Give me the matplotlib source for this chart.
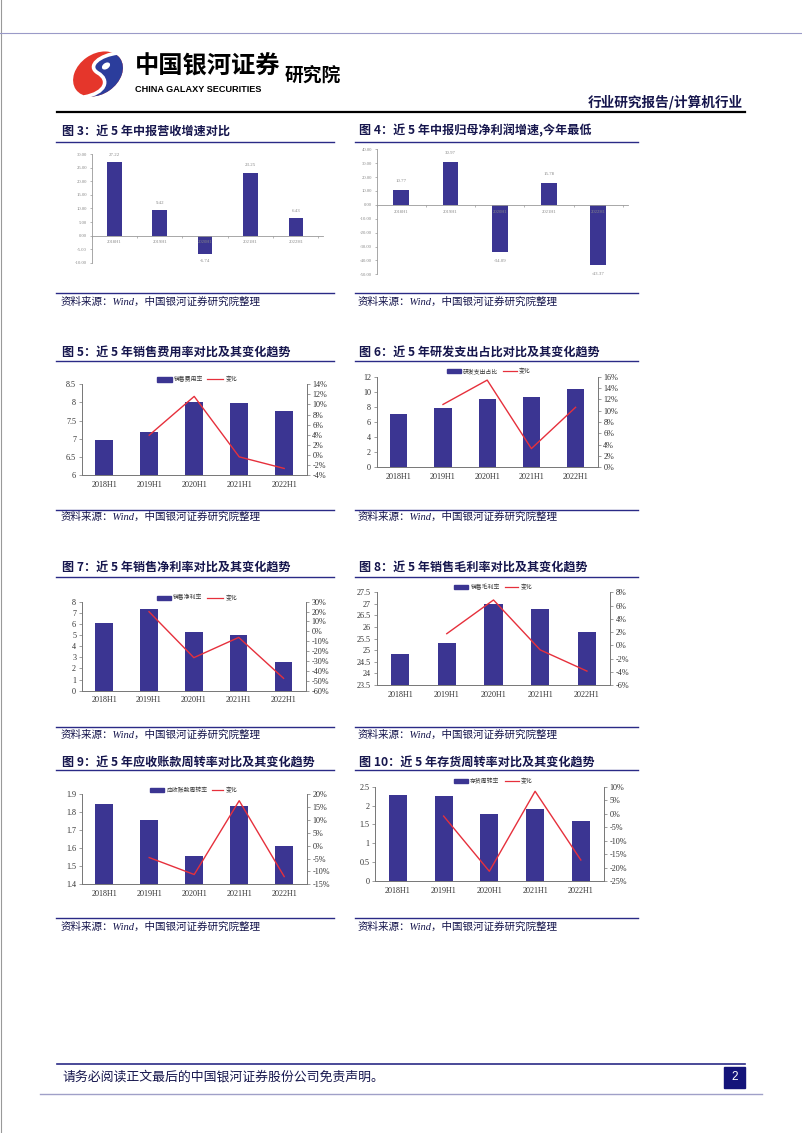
import matplotlib
matplotlib.use('Agg')
import matplotlib.pyplot as plt
import numpy as np
from matplotlib.patches import Rectangle, Polygon, Ellipse, PathPatch
from matplotlib.path import Path
from matplotlib.ticker import FuncFormatter, FixedLocator

W, H = 802, 1133
CJK = ['Noto Sans CJK SC', 'DejaVu Sans']
SERIF = ['Liberation Serif', 'Noto Sans CJK SC']
plt.rcParams['font.family'] = CJK

NAVY = '#3b3592'
RED = '#e6303c'
TITLEC = '#16164d'
LINEC = '#2a2a86'
GREY = '#888888'

# ---------------- data ----------------
periods = ['2018H1', '2019H1', '2020H1', '2021H1', '2022H1']
rev_growth = [27.22, 9.42, -6.74, 23.25, 6.43]
profit_growth = [10.77, 30.97, -34.09, 15.78, -43.37]
sell_ratio = [6.96, 7.19, 8.02, 7.99, 7.77]
sell_change = [3.9, 11.6, -0.4, -2.7]
rd_ratio = [7.06, 7.85, 9.09, 9.35, 10.32]
rd_change = [11.1, 15.4, 3.3, 10.6]
net_margin = [6.11, 7.31, 5.30, 4.97, 2.60]
net_change = [19.9, -26.6, -6.1, -47.5]
gross_margin = [24.85, 25.30, 27.00, 26.80, 25.77]
gross_change = [1.75, 6.84, -0.7, -3.9]
ar_turnover = [1.844, 1.756, 1.559, 1.833, 1.615]
ar_change = [-4.6, -11.2, 17.5, -12.0]
inv_turnover = [2.27, 2.25, 1.77, 1.90, 1.58]
inv_change = [-0.9, -21.4, 8.3, -17.2]

titles = ['图 3：近 5 年中报营收增速对比',
          '图 4：近 5 年中报归母净利润增速,今年最低',
          '图 5：近 5 年销售费用率对比及其变化趋势',
          '图 6：近 5 年研发支出占比对比及其变化趋势',
          '图 7：近 5 年销售净利率对比及其变化趋势',
          '图 8：近 5 年销售毛利率对比及其变化趋势',
          '图 9：近 5 年应收账款周转率对比及其变化趋势',
          '图 10：近 5 年存货周转率对比及其变化趋势']
bar_labels = ['销售费用率', '研发支出占比', '销售净利率', '销售毛利率', '应收账款周转率', '存货周转率']
change_label = '变化'
source = '资料来源：Wind，中国银河证券研究院整理'

fig = plt.figure(figsize=(W / 100, H / 100), dpi=100)
bg = fig.add_axes([0, 0, 1, 1])
bg.set_xlim(0, W)
bg.set_ylim(H, 0)
bg.axis('off')


def add_ax(x0, y0, x1, y1):
    return fig.add_axes([x0 / W, 1 - y1 / H, (x1 - x0) / W, (y1 - y0) / H])


def ticks(lo, hi, step):
    return np.round(np.arange(lo, hi + step / 2, step), 6)


# ---------------- page frame & header ----------------
bg.plot([1, 1], [0, H], color='#999999', lw=0.8)
bg.plot([0, W], [33, 33], color='#9a9ac8', lw=0.8)

# logo: tilted ellipse, red left / blue right, split by a white S stroke
bg.add_patch(Ellipse((98, 74), 54, 40, angle=-35, color='#e5362b', lw=0))
blue = Ellipse((98, 74), 54, 40, angle=-35, color='#2b3d9c', lw=0)
bg.add_patch(blue)
s_verts = [(118, 53), (100, 55), (86, 66), (98, 73),
           (110, 80), (106, 93), (84, 97)]
s_codes = [Path.MOVETO, Path.CURVE4, Path.CURVE4, Path.CURVE4,
           Path.CURVE4, Path.CURVE4, Path.CURVE4]
clip_verts = s_verts + [(135, 105), (135, 40), (118, 40)]
clip_codes = s_codes + [Path.LINETO, Path.LINETO, Path.LINETO]
clip_patch = PathPatch(Path(clip_verts, clip_codes), transform=bg.transData,
                       facecolor='none', edgecolor='none')
bg.add_patch(clip_patch)
blue.set_clip_path(clip_patch)
bg.add_patch(PathPatch(Path(s_verts, s_codes), facecolor='none', edgecolor='white', lw=2.6))
bg.add_patch(Ellipse((106, 66), 9, 6, angle=-35, color='white', lw=0))

bg.text(135, 67, '中国银河证券', fontsize=17.5, fontweight='bold', color='black', va='center')
bg.text(135, 89, 'CHINA GALAXY SECURITIES', fontsize=6.6, fontweight='bold',
        family=['Liberation Sans'], color='black', va='center')
bg.text(285, 75, '研究院', fontsize=13.5, fontweight='bold', color='black', va='center')
bg.text(743, 102.5, '行业研究报告/计算机行业', fontsize=9.8, fontweight='bold', color=TITLEC,
        va='center', ha='right')
bg.plot([57, 745], [112.3, 112.3], color='black', lw=1.6)

# footer
bg.plot([57, 745], [1064, 1064], color=LINEC, lw=1.2)
bg.text(62, 1077.5, '请务必阅读正文最后的中国银河证券股份公司免责声明。', fontsize=9.3,
        color=TITLEC, va='center')
bg.add_patch(Rectangle((724, 1067), 21, 21, color='#14147a'))
bg.text(734.5, 1077.5, '2', fontsize=8.5, color='white', ha='center', va='center',
        family=['Liberation Sans'])
bg.plot([40, 762], [1093.5, 1093.5], color='#a0a0c8', lw=1.0)

# ---------------- section frames ----------------
rows = [(131, 141.7, 293.3, 301.5), (352.7, 360.7, 510, 517),
        (568.3, 576.7, 726.7, 734.5), (762.7, 770, 918.3, 926.7)]
cols = [(56, 334, 62), (355, 638, 359)]
k = 0
for (ty, uy, sy, sty) in rows:
    for (xl, xr, tx) in cols:
        bg.text(tx, ty, titles[k], fontsize=8.7, fontweight='bold', color=TITLEC, va='center')
        bg.plot([xl, xr], [uy, uy], color=LINEC, lw=1.0)
        bg.plot([xl, xr], [sy, sy], color=LINEC, lw=1.0)
        bg.text(tx - 1, sty, source, fontsize=7.6, style='italic', family=SERIF,
                color=TITLEC, va='center')
        k += 1

x = np.arange(len(periods))


# ---------------- growth charts (fig 3 & 4) ----------------
def growth(box, vals, lo, hi, step, cat_off, val_off):
    ax = add_ax(*box)
    ax.bar(x, vals, width=0.32, color=NAVY, zorder=2)
    ax.set_xlim(-0.5, 4.6)
    ax.set_ylim(lo, hi)
    for s in ['top', 'right']:
        ax.spines[s].set_visible(False)
    ax.spines['bottom'].set_position(('data', 0))
    for s in ['left', 'bottom']:
        ax.spines[s].set_color('#999999')
        ax.spines[s].set_linewidth(0.6)
    ax.yaxis.set_major_locator(FixedLocator(ticks(lo, hi, step)))
    ax.yaxis.set_major_formatter(FuncFormatter(lambda v, p: f'{v:.2f}'))
    ax.tick_params(axis='y', labelsize=3.4, labelcolor=GREY, length=1.5, width=0.5,
                   color='#999999', pad=2)
    ax.set_xticks([])
    ax.set_xticks(np.arange(-0.5, 5, 1), minor=True)
    ax.tick_params(axis='x', which='minor', length=1.5, width=0.5, color='#999999')
    for lab in ax.get_yticklabels():
        lab.set_family(SERIF)
    for i, v in enumerate(vals):
        ax.annotate(periods[i], (i, 0), xytext=(0, -cat_off), textcoords='offset points',
                    ha='center', va='center', fontsize=3.3, color=GREY, family=SERIF, zorder=3)
        dy = val_off if v >= 0 else -val_off
        ax.annotate(f'{v:.2f}', (i, v), xytext=(0, dy), textcoords='offset points',
                    ha='center', va='center', fontsize=3.5, color=GREY, family=SERIF)
    ax.patch.set_alpha(0)


growth((91.7, 154.3, 323, 262.7), rev_growth, -10, 30, 5, 4.8, 5.2)
growth((376.7, 149.3, 627.7, 274.3), profit_growth, -50, 40, 10, 5.4, 6.2)


# ---------------- dual-axis charts ----------------
def dual(box, bars, change, lo, hi, step, rlo, rhi, rstep, label, leg, bw=0.39):
    ax = add_ax(*box)
    ax.bar(x, bars, width=bw, color=NAVY, zorder=2)
    ax.set_xlim(-0.5, 4.5)
    ax.set_ylim(lo, hi)
    ax.yaxis.set_major_locator(FixedLocator(ticks(lo, hi, step)))
    ax.yaxis.set_major_formatter(FuncFormatter(lambda v, p: f'{v:g}'))
    ax.set_xticks(x)
    ax.set_xticklabels(periods)
    ax2 = ax.twinx()
    ax2.plot(x[1:], change, color=RED, lw=1.0, zorder=3)
    ax2.set_ylim(rlo, rhi)
    ax2.yaxis.set_major_locator(FixedLocator(ticks(rlo, rhi, rstep)))
    ax2.yaxis.set_major_formatter(FuncFormatter(lambda v, p: f'{v:g}%'))
    for a in (ax, ax2):
        a.spines['top'].set_visible(False)
        for s in ['left', 'right', 'bottom']:
            a.spines[s].set_color('#777777')
            a.spines[s].set_linewidth(0.6)
        a.tick_params(labelsize=5.9, labelcolor='#333333', length=2, width=0.5,
                      color='#777777', pad=2)
        for lab in a.get_yticklabels() + a.get_xticklabels():
            lab.set_family(SERIF)
    ax.tick_params(axis='x', length=0, pad=4)
    ax.patch.set_alpha(0)
    # legend
    ly, bx0, bx1, lx0, lx1 = leg
    bg.add_patch(Rectangle((bx0, ly - 2.2), bx1 - bx0, 4.4, color=NAVY))
    bg.text(bx1 + 2, ly, label, fontsize=4.2, color='#333333', va='center')
    bg.plot([lx0, lx1], [ly, ly], color=RED, lw=0.9)
    bg.text(lx1 + 2, ly, change_label, fontsize=4.2, color='#333333', va='center')


dual((81.7, 384.3, 306.7, 475), sell_ratio, sell_change, 6, 8.5, 0.5, -4, 14, 2,
     bar_labels[0], (379.3, 156.7, 171.7, 206.7, 223.3))
dual((376.7, 376.7, 597.7, 467.3), rd_ratio, rd_change, 0, 12, 2, 0, 16, 2,
     bar_labels[1], (371, 446.7, 461, 503, 517))
dual((81.7, 601.7, 306, 690.7), net_margin, net_change, 0, 8, 1, -60, 30, 10,
     bar_labels[2], (597.7, 156.7, 171, 206.7, 223.3))
dual((376.7, 592.3, 610.3, 685), gross_margin, gross_change, 23.5, 27.5, 0.5, -6, 8, 2,
     bar_labels[3], (587.3, 454, 468.3, 505, 518.3))
dual((81.7, 794.3, 306.7, 884.3), ar_turnover, ar_change, 1.4, 1.9, 0.1, -15, 20, 5,
     bar_labels[4], (790, 150, 164.3, 211.7, 223.3))
dual((375, 786.7, 603.7, 881), inv_turnover, inv_change, 0, 2.5, 0.5, -25, 10, 5,
     bar_labels[5], (781, 454, 468.3, 505, 519))

fig.savefig('out.png', dpi=100)
